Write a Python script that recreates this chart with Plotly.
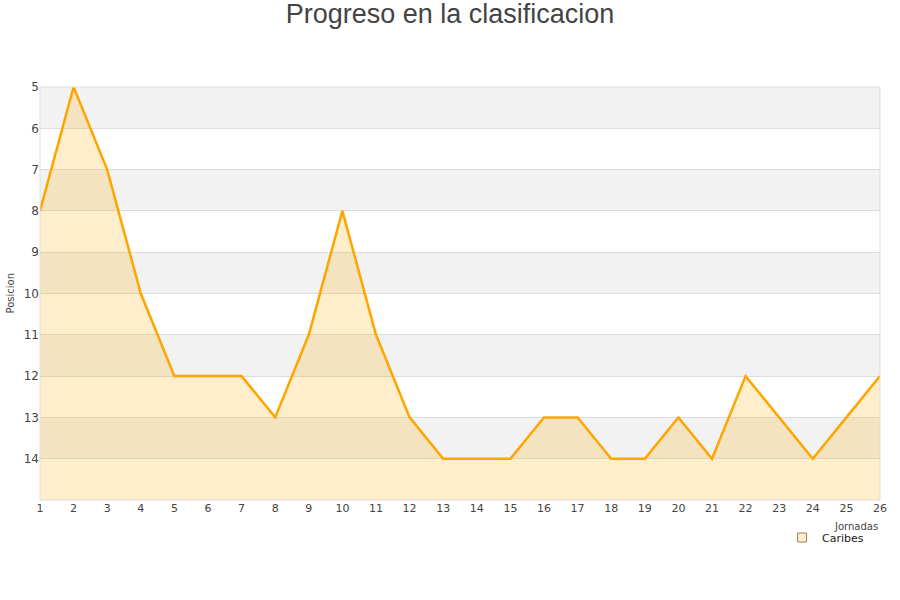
import plotly.graph_objects as go

jornadas = list(range(1, 27))
posiciones = [8, 5, 7, 10, 12, 12, 12, 13, 11, 8, 11, 13, 14, 14, 14, 13, 13, 14, 14, 13, 14, 12, 13, 14, 13, 12]
y_ticks = list(range(5, 15))
team = "Caribes"

fig = go.Figure()
# baseline for fill (bottom of axis)
fig.add_trace(go.Scatter(x=jornadas, y=[15] * len(jornadas), mode="lines",
                         line=dict(width=0, color="rgba(0,0,0,0)"), showlegend=False, hoverinfo="skip"))
fig.add_trace(go.Scatter(x=jornadas, y=posiciones, mode="lines", fill="tonexty",
                         fillcolor="rgba(255,170,0,0.2)",
                         line=dict(color="#FFA500", width=2.5), showlegend=False, name=team))
fig.add_trace(go.Scatter(x=[None], y=[None], mode="markers", name=team,
                         marker=dict(symbol="square", size=9, color="#FFEDCC",
                                     line=dict(color="#A08050", width=1))))

shapes = []
for y0 in range(5, 15, 2):
    shapes.append(dict(type="rect", xref="paper", yref="y", x0=0, x1=1, y0=y0, y1=y0 + 1,
                       fillcolor="#F2F2F2", line=dict(width=0), layer="below"))
shapes.append(dict(type="rect", xref="paper", yref="paper", x0=0, x1=1, y0=0, y1=1,
                   line=dict(color="#DDDDDD", width=1), layer="above"))

fig.update_layout(
    width=900, height=600,
    paper_bgcolor="white", plot_bgcolor="white",
    margin=dict(l=40, r=20, t=87, b=100, autoexpand=False),
    title=dict(text="Progreso en la clasificacion", x=0.5, xanchor="center", y=1 - 14 / 600, yanchor="middle",
               font=dict(family="Liberation Sans", size=27, color="#444444")),
    font=dict(family="DejaVu Sans", size=11, color="#555555"),
    shapes=shapes,
    annotations=[
        dict(text="Jornadas", xref="paper", yref="paper", x=1, y=-26 / 413,
             xanchor="right", yanchor="middle", showarrow=False,
             font=dict(size=10, color="#444444")),
        dict(text="Posicion", xref="paper", yref="paper", x=-30 / 840, y=0.5, textangle=-90,
             xanchor="center", yanchor="middle", showarrow=False,
             font=dict(size=10, color="#444444")),
    ],
    xaxis=dict(range=[1, 26], tickvals=jornadas, showgrid=False, zeroline=False, automargin=False,
               showline=False, ticks="", tickfont=dict(size=11, color="#444444")),
    yaxis=dict(range=[15, 5], tickvals=y_ticks, showgrid=True, gridcolor="#DDDDDD", automargin=False,
               zeroline=False, showline=False, ticks="", tickfont=dict(size=12, color="#444444")),
    showlegend=True,
    legend=dict(x=0.987, y=-23 / 413, xanchor="right", yanchor="top", bgcolor="rgba(0,0,0,0)",
                font=dict(size=11, color="#222222")),
)
fig.write_html("out.html", config={"displayModeBar": False},
               post_script="document.body.style.margin='0';")
